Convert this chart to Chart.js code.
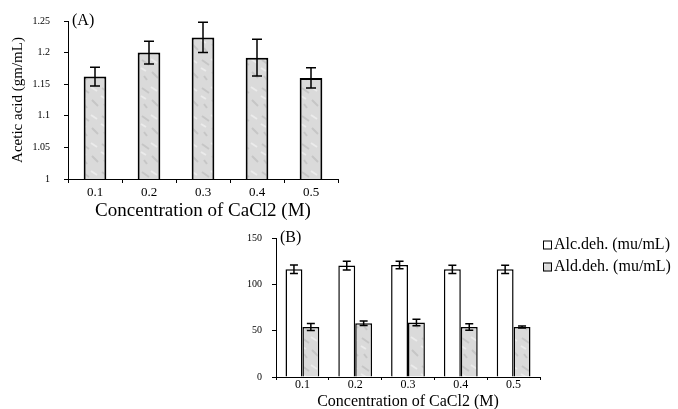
<!DOCTYPE html>
<html>
<head>
<meta charset="utf-8">
<script src="https://cdn.jsdelivr.net/npm/chart.js@4.4.1/dist/chart.umd.min.js"></script>
<style>
  body { margin: 0; background: #fff; width: 678px; height: 409px; overflow: hidden; position: relative; }
  .box { position: absolute; }
</style>
</head>
<body>
<div class="box" style="left:0;top:0;width:345px;height:222px;"><canvas id="chartA"></canvas></div>
<div class="box" style="left:240px;top:222px;width:438px;height:189px;"><canvas id="chartB"></canvas></div>
<script>
const concentrations = ['0.1', '0.2', '0.3', '0.4', '0.5'];

// (A) acetic acid
const aceticAcid = [1.162, 1.200, 1.224, 1.192, 1.160];
const aceticErr = [0.015, 0.018, 0.024, 0.029, 0.016];

// (B) enzyme activities
const alcDeh = [116.2, 120.2, 120.9, 116.2, 116.2];
const alcErr = [4.6, 4.7, 4.0, 4.5, 4.5];
const aldDeh = [54.0, 58.0, 58.7, 54.0, 54.0];
const aldErr = [3.8, 2.5, 3.5, 3.5, 1.0];

const serif = '"Liberation Serif", "Times New Roman", serif';

function grayPattern() {
  const c = document.createElement('canvas');
  c.width = 20; c.height = 28;
  const g = c.getContext('2d');
  g.fillStyle = '#dadada';
  g.fillRect(0, 0, 20, 28);
  g.strokeStyle = '#c6c6c6';
  g.lineWidth = 2;
  g.beginPath();
  g.moveTo(2, 4); g.lineTo(9, 9);
  g.moveTo(12, 16); g.lineTo(18, 22);
  g.moveTo(4, 20); g.lineTo(7, 24);
  g.stroke();
  g.strokeStyle = '#ebebeb';
  g.beginPath();
  g.moveTo(11, 3); g.lineTo(17, 7);
  g.moveTo(1, 12); g.lineTo(6, 15);
  g.stroke();
  return g.createPattern(c, 'repeat');
}

const errorBars = {
  id: 'errorBars',
  afterDatasetsDraw(chart, args, opts) {
    const ctx = chart.ctx;
    const y = chart.scales.y;
    ctx.save();
    ctx.strokeStyle = '#000';
    ctx.lineWidth = 1.5;
    chart.data.datasets.forEach((ds, i) => {
      const meta = chart.getDatasetMeta(i);
      meta.data.forEach((bar, j) => {
        const v = ds.data[j];
        const e = ds.errors[j];
        const top = y.getPixelForValue(v + e);
        const bot = y.getPixelForValue(v - e);
        const w = opts.cap;
        ctx.beginPath();
        ctx.moveTo(bar.x, top); ctx.lineTo(bar.x, bot);
        ctx.moveTo(bar.x - w, top); ctx.lineTo(bar.x + w, top);
        ctx.moveTo(bar.x - w, bot); ctx.lineTo(bar.x + w, bot);
        ctx.stroke();
      });
    });
    ctx.restore();
  }
};

const panelLabel = {
  id: 'panelLabel',
  afterDraw(chart, args, opts) {
    const ctx = chart.ctx;
    ctx.save();
    ctx.font = '16px ' + serif;
    ctx.fillStyle = '#000';
    ctx.textBaseline = 'middle';
    ctx.fillText(opts.text, chart.chartArea.left + opts.dx, chart.chartArea.top + opts.dy);
    ctx.restore();
  }
};

// small legend to the right of the plot, drawn from the dataset labels
const sideLegend = {
  id: 'sideLegend',
  afterDraw(chart, args, opts) {
    if (!opts.show) return;
    const ctx = chart.ctx;
    ctx.save();
    ctx.font = '16px ' + serif;
    ctx.textBaseline = 'middle';
    chart.data.datasets.forEach((ds, i) => {
      const x = chart.chartArea.right + opts.dx;
      const y = chart.chartArea.top + opts.dy + i * opts.gap;
      ctx.fillStyle = ds.backgroundColor;
      ctx.fillRect(x, y - 4.5, 9, 9);
      ctx.strokeStyle = '#000';
      ctx.lineWidth = 1;
      ctx.strokeRect(x + 0.5, y - 4, 8, 8);
      ctx.fillStyle = '#000';
      ctx.fillText(ds.label, x + 11, y);
    });
    ctx.restore();
  }
};

function axes(yMin, yMax, step, yTitle, yWidth, xHeight, tickFont, xTickFont, titleFont, xPad, xTick, yPad) {
  const y = {
    min: yMin, max: yMax,
    ticks: {
      stepSize: step, color: '#000', font: { family: serif, size: tickFont }, padding: yPad,
      callback: (v) => String(+v.toFixed(2))
    },
    grid: { display: true, drawOnChartArea: false, tickLength: 4, color: '#000' },
    border: { display: true, color: '#000', width: 1 },
    afterFit(s) { s.width = yWidth; }
  };
  if (yTitle) {
    y.title = { display: true, text: yTitle, color: '#000', font: { family: serif, size: 15 }, padding: { top: 9, bottom: 0 } };
  }
  return {
    x: {
      ticks: { color: '#000', font: { family: serif, size: xTickFont }, padding: xPad },
      grid: { display: true, drawOnChartArea: false, tickLength: xTick, color: '#000', offset: true },
      border: { display: true, color: '#000', width: 1 },
      title: { display: true, text: 'Concentration of CaCl2 (M)', color: '#000', font: { family: serif, size: titleFont }, padding: { top: 0, bottom: 0 } },
      afterFit(s) { s.height = xHeight; }
    },
    y: y
  };
}

const fill = grayPattern();

new Chart(document.getElementById('chartA'), {
  type: 'bar',
  data: {
    labels: concentrations,
    datasets: [{
      label: 'Acetic acid',
      data: aceticAcid,
      errors: aceticErr,
      backgroundColor: fill,
      borderColor: '#000',
      borderWidth: 2,
      barPercentage: 0.42,
      categoryPercentage: 1
    }]
  },
  options: {
    responsive: true,
    maintainAspectRatio: false,
    animation: false,
    layout: { padding: { top: 21, right: 7, left: 0, bottom: 0 } },
    scales: axes(1, 1.25, 0.05, 'Acetic acid (gm/mL)', 68, 43, 10, 13, 19, 2, 4, 14),
    plugins: {
      legend: { display: false },
      tooltip: { enabled: false },
      errorBars: { cap: 5 },
      panelLabel: { text: '(A)', dx: 4, dy: 0 },
      sideLegend: { show: false }
    }
  },
  plugins: [errorBars, panelLabel, sideLegend]
});

new Chart(document.getElementById('chartB'), {
  type: 'bar',
  data: {
    labels: concentrations,
    datasets: [{
      label: 'Alc.deh. (mu/mL)',
      data: alcDeh,
      errors: alcErr,
      backgroundColor: '#fff',
      borderColor: '#000',
      borderWidth: 1.5,
      barPercentage: 1,
      categoryPercentage: 0.64
    }, {
      label: 'Ald.deh. (mu/mL)',
      data: aldDeh,
      errors: aldErr,
      backgroundColor: fill,
      borderColor: '#000',
      borderWidth: 1.5,
      barPercentage: 1,
      categoryPercentage: 0.64
    }]
  },
  options: {
    responsive: true,
    maintainAspectRatio: false,
    animation: false,
    layout: { padding: { top: 14, right: 138, left: 0, bottom: 0 } },
    scales: axes(0, 150, 50, null, 36, 34, 10, 12, 16, -2, 3, 10),
    plugins: {
      legend: { display: false },
      tooltip: { enabled: false },
      errorBars: { cap: 4 },
      panelLabel: { text: '(B)', dx: 4, dy: 0 },
      sideLegend: { show: true, dx: 3, dy: 7, gap: 22 }
    }
  },
  plugins: [errorBars, panelLabel, sideLegend]
});
</script>
</body>
</html>
